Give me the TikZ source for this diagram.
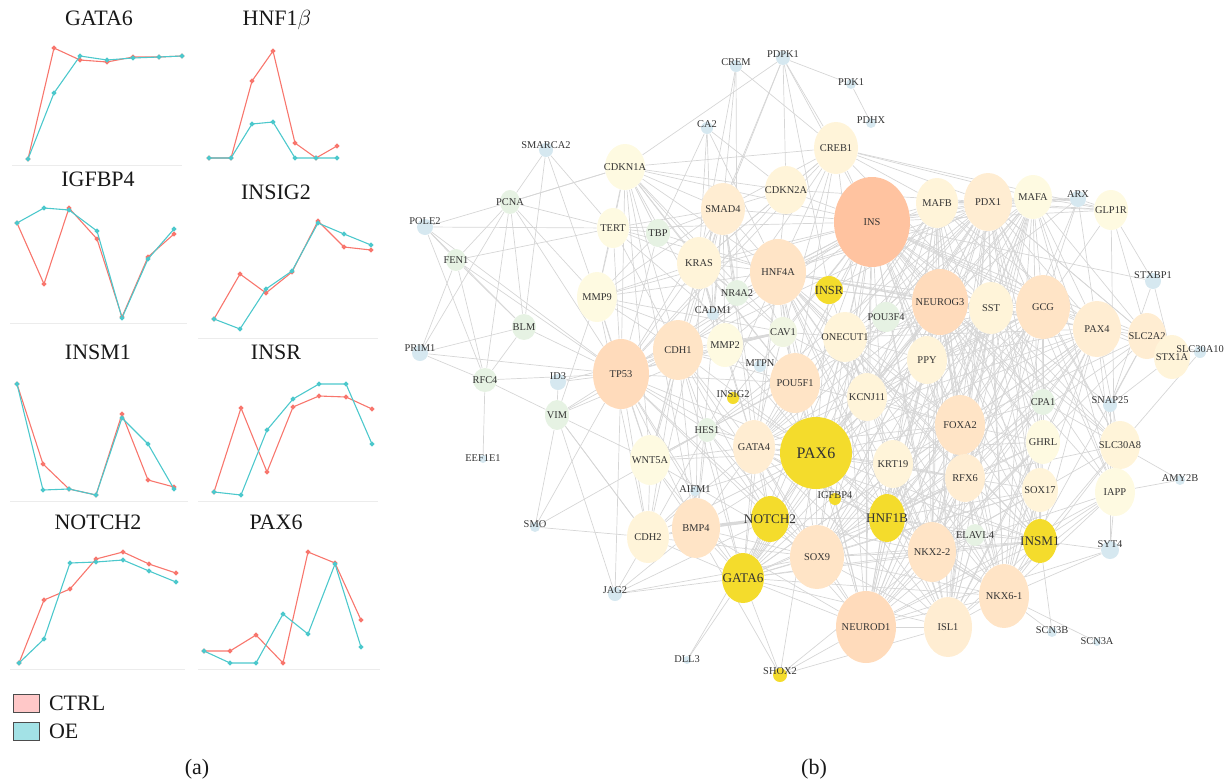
\documentclass[tikz,border=0pt]{standalone}
\usepackage{fontspec}
\setmainfont{Liberation Serif}
\usetikzlibrary{shapes.geometric,backgrounds}
\definecolor{ctrlred}{HTML}{F8766D}
\definecolor{oecyan}{HTML}{4CC8CC}
\definecolor{keypink}{HTML}{FFC8C8}
\definecolor{keycyan}{HTML}{A3E2E6}
\definecolor{tierA}{HTML}{FFC3A0}
\definecolor{tierB}{HTML}{FFDBBB}
\definecolor{tierC}{HTML}{FFE4C6}
\definecolor{tierD}{HTML}{FFEDD2}
\definecolor{tierE}{HTML}{FFF4D9}
\definecolor{tierF}{HTML}{FEFAE1}
\definecolor{hubyellow}{HTML}{F4DC2C}
\definecolor{leafgreen}{HTML}{E6F2E3}
\definecolor{leafblue}{HTML}{D6E8F0}
\newcommand{\glab}[1]{\makebox[0pt]{#1}}

\begin{document}
\begin{tikzpicture}[x=0.5pt,y=-0.5pt]
	\tikzstyle{title}=[font=\fontsize{11}{12}\selectfont,text=black!90]
	\tikzstyle{axis}=[draw=gray!15,line width=0.4pt]
	\tikzstyle{ctrl}=[draw=ctrlred,line width=0.55pt,mark=*,mark size=0.9pt,mark options={fill=ctrlred,draw=ctrlred}]
	\tikzstyle{oe}=[draw=oecyan,line width=0.55pt,mark=*,mark size=0.9pt,mark options={fill=oecyan,draw=oecyan}]
	\tikzstyle{gene}=[ellipse,inner sep=0pt,text=black!80,font=\fontsize{5.2}{6}\selectfont]
	\tikzstyle{hub}=[gene,fill=hubyellow,font=\fontsize{6.6}{7}\selectfont]
	\tikzstyle{leaf}=[circle,inner sep=0pt,fill=leafblue]
	\tikzstyle{lbl}=[anchor=center,inner sep=0pt,yshift=-1.5pt,text=black!80,font=\fontsize{5.2}{6}\selectfont]
	\tikzstyle{link}=[draw=gray!32,line width=0.35pt]
	\useasboundingbox (0,0) rectangle (1232,782);

	% (a) expression curves
	\node[title] (tGATA6) at (99,18) {GATA6};
	\draw[axis] (12,165) -- (182,165);
	\draw[ctrl] plot coordinates {(28,159) (54,48) (80,60) (107,62) (133,57) (159,57) (182,56)};
	\draw[oe] plot coordinates {(28,159) (54,93) (80,56) (107,60) (133,58) (159,57) (182,56)};

	\node[title] (tHNF1B) at (277,20) {HNF1$\beta$};
	\draw[ctrl] plot coordinates {(209,158) (231,158) (252,81) (273,51) (295,143) (316,158) (337,146)};
	\draw[oe] plot coordinates {(209,158) (231,158) (252,124) (273,122) (295,158) (316,158) (337,158)};

	\node[title] (tIGFBP4) at (98,179) {IGFBP4};
	\draw[axis] (10,323) -- (187,323);
	\draw[ctrl] plot coordinates {(17,223) (44,284) (69,208) (97,239) (122,317) (148,257) (174,234)};
	\draw[oe] plot coordinates {(17,223) (44,208) (69,210) (97,231) (122,318) (148,259) (174,229)};

	\node[title] (tINSIG2) at (276,192) {INSIG2};
	\draw[axis] (198,338) -- (378,338);
	\draw[ctrl] plot coordinates {(214,319) (240,274) (266,293) (292,272) (318,221) (344,247) (371,250)};
	\draw[oe] plot coordinates {(214,319) (240,329) (266,289) (292,271) (318,223) (344,234) (371,245)};

	\node[title] (tINSM1) at (98,352) {INSM1};
	\draw[axis] (10,501) -- (188,501);
	\draw[ctrl] plot coordinates {(17,384) (43,464) (69,489) (96,495) (122,414) (148,480) (174,487)};
	\draw[oe] plot coordinates {(17,384) (43,490) (69,489) (96,495) (122,418) (148,444) (174,489)};

	\node[title] (tINSR) at (276,352) {INSR};
	\draw[axis] (198,501) -- (378,501);
	\draw[ctrl] plot coordinates {(214,492) (241,408) (267,472) (293,407) (319,396) (346,397) (372,409)};
	\draw[oe] plot coordinates {(214,492) (241,495) (267,430) (293,399) (319,384) (346,384) (372,444)};

	\node[title] (tNOTCH2) at (98,522) {NOTCH2};
	\draw[axis] (10,669) -- (185,669);
	\draw[ctrl] plot coordinates {(19,663) (44,600) (70,589) (96,559) (123,552) (149,564) (176,573)};
	\draw[oe] plot coordinates {(19,663) (44,639) (70,563) (96,562) (123,560) (149,571) (176,582)};

	\node[title] (tPAX6) at (276,522) {PAX6};
	\draw[axis] (198,669) -- (380,669);
	\draw[ctrl] plot coordinates {(204,651) (230,651) (256,635) (283,663) (308,552) (335,563) (361,620)};
	\draw[oe] plot coordinates {(204,651) (230,663) (256,663) (283,614) (308,634) (335,564) (361,647)};

	% legend and captions
	\node[draw=black!70,fill=keypink,line width=0.5pt,minimum width=13pt,minimum height=9pt,inner sep=0pt] (kCTRL) at (26,703) {};
	\node[title,anchor=west] (tCTRL) at (42,703) {CTRL};
	\node[draw=black!70,fill=keycyan,line width=0.5pt,minimum width=13pt,minimum height=9pt,inner sep=0pt] (kOE) at (26,731) {};
	\node[title,anchor=west] (tOE) at (42,731) {OE};
	\node[title] (capA) at (197,769) {(a)};
	\node[title] (capB) at (814,769) {(b)};

	% (b) network: large genes
	\node[gene,fill=tierA,minimum width=38pt,minimum height=45pt] (INS) at (872,222) {\glab{INS}};
	\node[gene,fill=tierE,minimum width=22pt,minimum height=26pt] (CREB1) at (836,148) {\glab{CREB1}};
	\node[gene,fill=tierF,minimum width=20pt,minimum height=23pt] (CDKN1A) at (625,167) {\glab{CDKN1A}};
	\node[gene,fill=tierE,minimum width=21pt,minimum height=24pt] (CDKN2A) at (786,190) {\glab{CDKN2A}};
	\node[gene,fill=tierD,minimum width=22pt,minimum height=26pt] (SMAD4) at (723,209) {\glab{SMAD4}};
	\node[gene,fill=tierF,minimum width=16pt,minimum height=20pt] (TERT) at (613,228) {\glab{TERT}};
	\node[gene,fill=tierE,minimum width=22pt,minimum height=26pt] (KRAS) at (699,263) {\glab{KRAS}};
	\node[gene,fill=tierC,minimum width=28pt,minimum height=33pt] (HNF4A) at (778,272) {\glab{HNF4A}};
	\node[gene,fill=tierF,minimum width=20pt,minimum height=25pt] (MMP9) at (597,297) {\glab{MMP9}};
	\node[gene,fill=tierE,minimum width=21pt,minimum height=25pt] (MAFB) at (937,203) {\glab{MAFB}};
	\node[gene,fill=tierD,minimum width=24pt,minimum height=29pt] (PDX1) at (988,202) {\glab{PDX1}};
	\node[gene,fill=tierF,minimum width=19pt,minimum height=22pt] (MAFA) at (1033,197) {\glab{MAFA}};
	\node[gene,fill=tierF,minimum width=17pt,minimum height=20pt] (GLP1R) at (1111,210) {\glab{GLP1R}};
	\node[gene,fill=tierB,minimum width=28pt,minimum height=33pt] (NEUROG3) at (940,302) {\glab{NEUROG3}};
	\node[gene,fill=tierE,minimum width=22pt,minimum height=26pt] (SST) at (991,308) {\glab{SST}};
	\node[gene,fill=tierC,minimum width=27pt,minimum height=32pt] (GCG) at (1043,307) {\glab{GCG}};
	\node[gene,fill=tierD,minimum width=24pt,minimum height=28pt] (PAX4) at (1097,329) {\glab{PAX4}};
	\node[gene,fill=tierD,minimum width=19pt,minimum height=23pt] (SLC2A2) at (1147,336) {\glab{SLC2A2}};
	\node[gene,fill=tierE,minimum width=18pt,minimum height=22pt] (STX1A) at (1172,357) {\glab{STX1A}};
	\node[gene,fill=tierE,minimum width=22pt,minimum height=25pt] (ONECUT1) at (845,337) {\glab{ONECUT1}};
	\node[gene,fill=tierE,minimum width=20pt,minimum height=24pt] (PPY) at (927,360) {\glab{PPY}};
	\node[gene,fill=tierC,minimum width=25pt,minimum height=30pt] (CDH1) at (678,350) {\glab{CDH1}};
	\node[gene,fill=tierF,minimum width=18pt,minimum height=22pt] (MMP2) at (725,345) {\glab{MMP2}};
	\node[gene,fill=tierB,minimum width=28pt,minimum height=35pt] (TP53) at (621,374) {\glab{TP53}};
	\node[gene,fill=tierC,minimum width=25pt,minimum height=30pt] (POU5F1) at (795,383) {\glab{POU5F1}};
	\node[gene,fill=tierE,minimum width=20pt,minimum height=24pt] (KCNJ11) at (867,397) {\glab{KCNJ11}};
	\node[gene,fill=tierC,minimum width=25pt,minimum height=30pt] (FOXA2) at (960,425) {\glab{FOXA2}};
	\node[gene,fill=tierD,minimum width=21pt,minimum height=27pt] (GATA4) at (754,447) {\glab{GATA4}};
	\node[gene,fill=tierF,minimum width=20pt,minimum height=25pt] (WNT5A) at (650,460) {\glab{WNT5A}};
	\node[gene,fill=tierE,minimum width=20pt,minimum height=24pt] (KRT19) at (893,464) {\glab{KRT19}};
	\node[gene,fill=tierD,minimum width=20pt,minimum height=24pt] (RFX6) at (965,478) {\glab{RFX6}};
	\node[gene,fill=tierF,minimum width=17pt,minimum height=22pt] (GHRL) at (1043,442) {\glab{GHRL}};
	\node[gene,fill=tierE,minimum width=20pt,minimum height=24pt] (SLC30A8) at (1120,445) {\glab{SLC30A8}};
	\node[gene,fill=tierE,minimum width=18pt,minimum height=22pt] (SOX17) at (1040,490) {\glab{SOX17}};
	\node[gene,fill=tierF,minimum width=20pt,minimum height=24pt] (IAPP) at (1115,492) {\glab{IAPP}};
	\node[gene,fill=tierE,minimum width=21pt,minimum height=26pt] (CDH2) at (648,537) {\glab{CDH2}};
	\node[gene,fill=tierC,minimum width=24pt,minimum height=30pt] (BMP4) at (696,528) {\glab{BMP4}};
	\node[gene,fill=tierC,minimum width=27pt,minimum height=32pt] (SOX9) at (817,557) {\glab{SOX9}};
	\node[gene,fill=tierC,minimum width=24pt,minimum height=30pt] (NKX22) at (932,552) {\glab{NKX2-2}};
	\node[gene,fill=tierC,minimum width=25pt,minimum height=32pt] (NKX61) at (1004,596) {\glab{NKX6-1}};
	\node[gene,fill=tierB,minimum width=30pt,minimum height=36pt] (NEUROD1) at (866,627) {\glab{NEUROD1}};
	\node[gene,fill=tierD,minimum width=24pt,minimum height=30pt] (ISL1) at (948,627) {\glab{ISL1}};

	% highlighted genes
	\node[hub,minimum width=36pt,minimum height=36pt,font=\fontsize{8}{9}\selectfont] (PAX6) at (816,453) {\glab{PAX6}};
	\node[hub,minimum width=19pt,minimum height=23pt] (NOTCH2) at (770,519) {\glab{NOTCH2}};
	\node[hub,minimum width=18pt,minimum height=24pt] (HNF1B) at (887,518) {\glab{HNF1B}};
	\node[hub,minimum width=21pt,minimum height=25pt] (GATA6) at (743,578) {\glab{GATA6}};
	\node[hub,minimum width=17pt,minimum height=22pt] (INSM1) at (1040,541) {\glab{INSM1}};
	\node[hub,minimum width=14pt,minimum height=14pt,font=\fontsize{6.2}{7}\selectfont] (INSR) at (829,290) {\glab{INSR}};
	\node[leaf,fill=hubyellow,minimum size=6pt,label={[lbl]90:INSIG2}] (INSIG2) at (733,398) {};
	\node[leaf,fill=hubyellow,minimum size=6pt,label={[lbl]90:IGFBP4}] (IGFBP4) at (835,499) {};
	\node[leaf,fill=hubyellow,minimum size=7pt,label={[lbl]90:SHOX2}] (SHOX2) at (780,675) {};

	% green genes
	\node[gene,fill=leafgreen,minimum width=10pt,minimum height=12pt] (PCNA) at (510,202) {\glab{PCNA}};
	\node[gene,fill=leafgreen,minimum width=12pt,minimum height=14pt] (TBP) at (658,233) {\glab{TBP}};
	\node[gene,fill=leafgreen,minimum width=10pt,minimum height=11pt] (FEN1) at (456,260) {\glab{FEN1}};
	\node[gene,fill=leafgreen,minimum width=12pt,minimum height=13pt] (NR4A2) at (737,293) {\glab{NR4A2}};
	\node[gene,fill=leafgreen,minimum width=12pt,minimum height=13pt] (BLM) at (524,327) {\glab{BLM}};
	\node[gene,fill=leafgreen!60!tierF,minimum width=14pt,minimum height=15pt] (CAV1) at (783,332) {\glab{CAV1}};
	\node[gene,fill=leafgreen,minimum width=14pt,minimum height=15pt] (POU3F4) at (886,317) {\glab{POU3F4}};
	\node[gene,fill=leafgreen,minimum width=12pt,minimum height=12pt] (RFC4) at (485,380) {\glab{RFC4}};
	\node[gene,fill=leafgreen,minimum width=12pt,minimum height=15pt] (VIM) at (557,415) {\glab{VIM}};
	\node[gene,fill=leafgreen,minimum width=10pt,minimum height=12pt] (HES1) at (707,430) {\glab{HES1}};
	\node[gene,fill=leafgreen,minimum width=12pt,minimum height=13pt] (CPA1) at (1043,402) {\glab{CPA1}};
	\node[gene,fill=leafgreen,minimum width=10pt,minimum height=11pt] (ELAVL4) at (975,535) {\glab{ELAVL4}};

	% blue genes
	\node[leaf,minimum size=6pt,label={[lbl]90:CREM}] (CREM) at (736,66) {};
	\node[leaf,minimum size=7pt,label={[lbl]90:PDPK1}] (PDPK1) at (783,58) {};
	\node[leaf,minimum size=5pt,label={[lbl]90:PDK1}] (PDK1) at (851,84) {};
	\node[leaf,minimum size=5pt,label={[lbl]90:PDHX}] (PDHX) at (871,123) {};
	\node[leaf,minimum size=6pt,label={[lbl]90:CA2}] (CA2) at (707,128) {};
	\node[leaf,minimum size=7pt,label={[lbl]90:SMARCA2}] (SMARCA2) at (546,150) {};
	\node[leaf,minimum size=8pt,label={[lbl]90:POLE2}] (POLE2) at (425,227) {};
	\node[leaf,minimum size=6pt,label={[lbl]90:CADM1}] (CADM1) at (713,314) {};
	\node[leaf,minimum size=8pt,label={[lbl]90:PRIM1}] (PRIM1) at (420,353) {};
	\node[leaf,minimum size=8pt,label={[lbl]90:ID3}] (ID3) at (558,382) {};
	\node[leaf,minimum size=4pt,label={[lbl]90:EEF1E1}] (EEF1E1) at (483,459) {};
	\node[leaf,minimum size=6pt,label={[lbl]90:MTPN}] (MTPN) at (760,366) {};
	\node[leaf,minimum size=5pt,label={[lbl]90:AIFM1}] (AIFM1) at (695,491) {};
	\node[leaf,minimum size=5pt,label={[lbl]90:SMO}] (SMO) at (535,527) {};
	\node[leaf,minimum size=7pt,label={[lbl]90:JAG2}] (JAG2) at (615,594) {};
	\node[leaf,minimum size=4pt,label={[lbl]90:DLL3}] (DLL3) at (687,660) {};
	\node[leaf,minimum size=8pt,label={[lbl]90:ARX}] (ARX) at (1078,199) {};
	\node[leaf,minimum size=8pt,label={[lbl]90:STXBP1}] (STXBP1) at (1153,281) {};
	\node[leaf,minimum size=7pt,label={[lbl]90:SNAP25}] (SNAP25) at (1110,405) {};
	\node[leaf,minimum size=6pt,label={[lbl]90:SLC30A10}] (SLC30A10) at (1200,352) {};
	\node[leaf,minimum size=5pt,label={[lbl]90:AMY2B}] (AMY2B) at (1180,480) {};
	\node[leaf,minimum size=9pt,label={[lbl]90:SYT4}] (SYT4) at (1110,550) {};
	\node[leaf,minimum size=5pt,label={[lbl]90:SCN3B}] (SCN3B) at (1052,632) {};
	\node[leaf,minimum size=4pt,label={[lbl]90:SCN3A}] (SCN3A) at (1097,642) {};

	% interactions
	\begin{scope}[on background layer,every edge/.style={link}]
		\def\corelist{INS,PDX1,NEUROG3,NKX22,NKX61,NEUROD1,PAX6,ISL1,GCG,SST,FOXA2,HNF4A,HNF1B,MAFA,MAFB,PAX4,SOX9,ONECUT1,GATA4,GATA6,INSM1,RFX6}
		\foreach \a [count=\i] in \corelist {
			\foreach \b [count=\j] in \corelist {
				\ifnum\i<\j \path (\a) edge (\b); \fi
			}
		}
		\foreach \a/\bs in {INS/{CREB1,CDKN1A,CDKN2A,SMAD4,KRAS,INSR,GLP1R,SLC2A2,KCNJ11,IAPP,PPY,GHRL,SOX17,SLC30A8,CPA1,POU5F1,TP53,CAV1,PDPK1,STXBP1,SNAP25,IGFBP4,INSIG2,CDH1,MMP2,MMP9,TERT,ARX,STX1A,NR4A2},
			PDX1/{CREB1,GLP1R,SLC2A2,IAPP,KCNJ11,PPY,SOX17,GHRL,CPA1,SLC30A8,ARX,POU3F4,TP53,CDKN2A,INSR,HES1,STX1A},
			NEUROG3/{PPY,GHRL,ARX,HES1,SOX17,CPA1,KRT19,ELAVL4,POU3F4,SLC30A8,NOTCH2,INSR,KCNJ11},
			NKX22/{PPY,GHRL,ARX,ELAVL4,KRT19,SOX17,IAPP,SLC2A2,SHOX2,NOTCH2,SLC30A8},
			NKX61/{SCN3B,SCN3A,SLC2A2,IAPP,SYT4,ELAVL4,KRT19,SOX17,CPA1,SLC30A8,GHRL},
			NEUROD1/{SHOX2,KRT19,ELAVL4,PPY,NOTCH2,BMP4,IAPP,GHRL,KCNJ11,SYT4,IGFBP4},
			PAX6/{TP53,POU5F1,KCNJ11,KRT19,HES1,NOTCH2,BMP4,WNT5A,CDH1,CDH2,SHOX2,INSR,IGFBP4,MMP2,CAV1,AIFM1,MTPN,PPY,GHRL,INSIG2},
			SOX9/{NOTCH2,BMP4,CDH2,WNT5A,HES1,KRT19,TP53,CDH1,JAG2,SOX17},
			GATA6/{NOTCH2,BMP4,CDH2,DLL3,SHOX2,HES1,SOX17,CDH1,WNT5A,JAG2,TP53},
			GATA4/{BMP4,NOTCH2,HES1,WNT5A,TP53,CDH1,CDH2,POU5F1,MMP2,CAV1,KRAS,SMAD4},
			HNF4A/{KRAS,SMAD4,CDKN2A,CDKN1A,TP53,POU5F1,CDH1,MMP9,TERT,TBP,NR4A2,CAV1,HES1,KCNJ11,CREB1,CA2},
			HNF1B/{KRT19,SOX17,PPY,GHRL,CPA1,ELAVL4,NOTCH2,IGFBP4,SLC2A2},
			FOXA2/{KCNJ11,KRT19,SOX17,GHRL,PPY,CPA1,SLC2A2,CAV1,POU5F1},
			ISL1/{SHOX2,ELAVL4,IAPP,GHRL,KRT19,SOX17},
			GCG/{GLP1R,ARX,PPY,GHRL,IAPP,SLC2A2,SLC30A8,CPA1,KCNJ11},
			SST/{PPY,GHRL,IAPP,KCNJ11,SLC30A8,CREB1,INSR},
			MAFA/{GLP1R,SLC2A2,IAPP,ARX,SLC30A8,CREB1},
			MAFB/{GLP1R,ARX,PPY,CREB1},
			PAX4/{ARX,GHRL,PPY,SLC2A2,SLC30A8,IAPP,STX1A},
			ONECUT1/{POU3F4,KCNJ11,CAV1,HES1,KRT19,PPY,INSR},
			RFX6/{KRT19,GHRL,SOX17,PPY,ELAVL4,CPA1,SLC30A8},
			INSM1/{SYT4,SCN3B,ELAVL4,GHRL,IAPP,SOX17,SLC30A8},
			TP53/{CDKN1A,CDKN2A,SMAD4,KRAS,TERT,MMP9,MMP2,CDH1,CDH2,BMP4,WNT5A,VIM,ID3,PCNA,BLM,FEN1,RFC4,PRIM1,POLE2,CAV1,POU5F1,NOTCH2,HES1,TBP,CREB1,SMO,JAG2,AIFM1},
			CDKN1A/{CDKN2A,SMAD4,KRAS,TERT,MMP9,PCNA,TBP,CDH1,MMP2,PDPK1,CREB1,CAV1,NR4A2,POU5F1,BMP4,WNT5A},
			SMAD4/{CDKN2A,KRAS,TERT,BMP4,CDH1,CDH2,MMP2,MMP9,CREB1,NOTCH2,WNT5A,TBP,NR4A2,CAV1},
			KRAS/{CDKN2A,MMP9,MMP2,CDH1,TERT,CAV1,NR4A2,CADM1,CREB1,POU5F1,BMP4,WNT5A},
			CREB1/{CDKN2A,NR4A2,CREM,GLP1R,POU5F1,KCNJ11,CAV1,PDPK1},
			TERT/{POLE2,PCNA,MMP9,TBP,POU5F1,CDH1,SMARCA2},
			MMP9/{CDH1,MMP2,CDH2,WNT5A,VIM,SMARCA2,CAV1,TBP},
			CDH1/{CDH2,MMP2,WNT5A,VIM,ID3,BMP4,NOTCH2,HES1,CAV1,POU5F1,MTPN},
			CDH2/{BMP4,WNT5A,NOTCH2,VIM,JAG2,SMO,AIFM1,HES1},
			BMP4/{WNT5A,HES1,JAG2,AIFM1,SHOX2},
			NOTCH2/{HES1,JAG2,DLL3},
			WNT5A/{HES1,VIM,POU5F1},
			PCNA/{POLE2,FEN1,BLM,RFC4,PRIM1,SMARCA2,CDKN1A,MMP9},
			FEN1/{POLE2,BLM,RFC4,PRIM1,TERT},
			BLM/{POLE2,RFC4,PRIM1,SMARCA2},
			RFC4/{PRIM1,POLE2,EEF1E1,VIM},
			CREM/{CADM1,NR4A2,KRAS},
			PDPK1/{PDK1,KRAS,SMAD4,CDKN2A,INSR},
			PDK1/{PDHX},
			CA2/{CDKN2A,KRAS,TBP,CADM1},
			ID3/{VIM},
			VIM/{CDH2,MMP2,JAG2},
			SMO/{VIM,HES1},
			ARX/{GLP1R},
			GLP1R/{SLC2A2,IAPP,STXBP1},
			STXBP1/{SNAP25,STX1A},
			SNAP25/{STX1A,SYT4,SLC2A2},
			SLC30A10/{SLC30A8,SLC2A2},
			AMY2B/{IAPP,CPA1},
			SYT4/{SNAP25,IAPP}} {
			\foreach \b in \bs { \path (\a) edge (\b); }
		}
		\path (BMP4) edge[line width=1.6pt,draw=gray!30] (NOTCH2)
		      (MMP2) edge[line width=1.2pt,draw=gray!30] (CAV1);
	\end{scope}
\end{tikzpicture}
\end{document}
